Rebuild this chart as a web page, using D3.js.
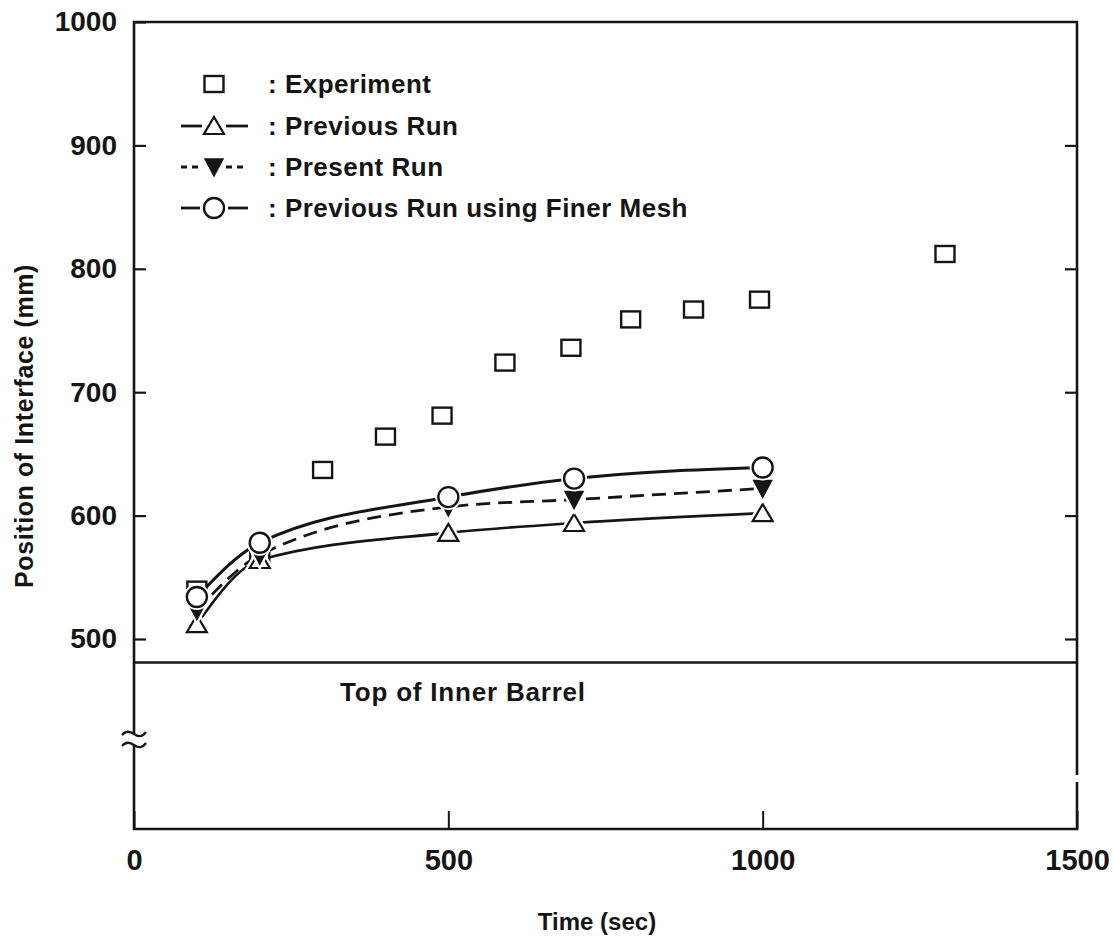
<!DOCTYPE html>
<html>
<head>
<meta charset="utf-8">
<script src="https://cdn.jsdelivr.net/npm/d3@7"></script>
<style>
  html, body { margin: 0; padding: 0; background: #fff; }
  svg text { font-family: "Liberation Sans", Arial, Helvetica, sans-serif; font-weight: bold; fill: #151515; }
</style>
</head>
<body>
<svg id="chart" width="1113" height="941"></svg>
<script>
// Interface position vs. time
const expTime = [100, 200, 300, 400, 490, 590, 695, 790, 890, 995, 1290];
const expPos  = [540, 568, 637, 664, 681, 724, 736, 759, 767, 775, 812];

const runTime    = [100, 200, 500, 700, 1000];
const previousRun = [512, 564, 586, 594, 602];
const presentRun  = [523, 568, 607, 613, 622];
const finerMeshRun = [534, 578, 615, 630, 639];

const xTicks = [0, 500, 1000, 1500];
const yTicks = [500, 600, 700, 800, 900, 1000];
const innerBarrelTop = 481;

const legendLabels = [": Experiment", ": Previous Run", ": Present Run", ": Previous Run using Finer Mesh"];

const ink = "#151515";
const svg = d3.select("#chart");

const pLeft = 134, pRight = 1077, pTop = 22, pBottom = 829;
const x = d3.scaleLinear().domain([0, 1500]).range([pLeft, pRight]);
const y = d3.scaleLinear().domain([500, 1000]).range([639, pTop]);

// Frame (left axis broken for the scale discontinuity)
const frame = svg.append("g").attr("stroke", ink).attr("stroke-width", 2.6).attr("fill", "none");
const breakY1 = 734, breakY2 = 745;
frame.append("path").attr("d", `M${pLeft},${breakY1} V${pTop} H${pRight} V775`);
frame.append("path").attr("d", `M${pRight},782 V${pBottom} H${pLeft} V${breakY2}`);
// axis break marks
frame.append("path").attr("stroke-width", 2.2)
  .attr("d", `M${pLeft - 12},${breakY1 + 1} q5,-6 12,-1 t12,-2`);
frame.append("path").attr("stroke-width", 2.2)
  .attr("d", `M${pLeft - 12},${breakY2 + 1} q5,-6 12,-1 t12,-2`);

// Y axis (ticks point inward)
const yAxis = svg.append("g").attr("transform", `translate(${pLeft},0)`)
  .call(d3.axisLeft(y).tickValues(yTicks).tickSizeInner(-12).tickSizeOuter(0).tickPadding(17).tickFormat(d3.format("d")));
yAxis.select(".domain").remove();
yAxis.selectAll("line").attr("stroke", ink).attr("stroke-width", 2.2);
yAxis.selectAll("text").attr("font-size", 28).attr("fill", ink);

const yAxisR = svg.append("g").attr("transform", `translate(${pRight},0)`)
  .call(d3.axisRight(y).tickValues(yTicks.filter(d => d < 1000)).tickSizeInner(-12).tickSizeOuter(0).tickFormat(""));
yAxisR.select(".domain").remove();
yAxisR.selectAll("line").attr("stroke", ink).attr("stroke-width", 2.2);

// X axis
const xAxis = svg.append("g").attr("transform", `translate(0,${pBottom})`)
  .call(d3.axisBottom(x).tickValues(xTicks).tickSizeInner(-18).tickSizeOuter(0).tickPadding(20).tickFormat(d3.format("d")));
xAxis.select(".domain").remove();
xAxis.selectAll("line").attr("stroke", ink).attr("stroke-width", 2);
xAxis.selectAll("text").attr("font-size", 29).attr("fill", ink);

// Axis titles
svg.append("text").attr("x", 597).attr("y", 930).attr("text-anchor", "middle")
  .attr("font-size", 24).text("Time (sec)");
svg.append("text").attr("transform", "translate(33,426) rotate(-90)").attr("text-anchor", "middle")
  .attr("font-size", 25).attr("letter-spacing", 0.6).text("Position of Interface (mm)");

// Top of inner barrel
svg.append("line").attr("x1", pLeft).attr("x2", pRight)
  .attr("y1", y(innerBarrelTop)).attr("y2", y(innerBarrelTop))
  .attr("stroke", ink).attr("stroke-width", 2.4);
svg.append("text").attr("x", 340).attr("y", 701).attr("font-size", 26)
  .attr("letter-spacing", 0.8).text("Top of Inner Barrel");

// Curves
const curveGen = d3.line().x(d => x(d[0])).y(d => y(d[1])).curve(d3.curveMonotoneX);
const pairs = vals => runTime.map((t, i) => [t, vals[i]]);

const curves = svg.append("g").attr("fill", "none").attr("stroke", ink);
curves.append("path").attr("d", curveGen(pairs(previousRun))).attr("stroke-width", 2.6);
curves.append("path").attr("d", curveGen(pairs(presentRun))).attr("stroke-width", 2.8).attr("stroke-dasharray", "14,8");
curves.append("path").attr("d", curveGen(pairs(finerMeshRun))).attr("stroke-width", 3);

// Marker drawers
const sqW = 19, sqH = 16;
function square(g, cx, cy) {
  g.append("rect").attr("x", cx - sqW / 2).attr("y", cy - sqH / 2).attr("width", sqW).attr("height", sqH)
    .attr("fill", "#fff").attr("stroke", ink).attr("stroke-width", 2.4);
}
function triUp(g, cx, cy, halo) {
  const p = `M${cx},${cy - 9} L${cx + 10},${cy + 8} L${cx - 10},${cy + 8} Z`;
  if (halo) g.append("path").attr("d", p).attr("fill", "#fff").attr("stroke", "#fff").attr("stroke-width", 7);
  g.append("path").attr("d", p).attr("fill", "#fff").attr("stroke", ink).attr("stroke-width", 2.2);
}
function triDown(g, cx, cy, halo) {
  const p = `M${cx - 9},${cy - 8} L${cx + 9},${cy - 8} L${cx},${cy + 9} Z`;
  if (halo) g.append("path").attr("d", p).attr("fill", "#fff").attr("stroke", "#fff").attr("stroke-width", 6);
  g.append("path").attr("d", p).attr("fill", ink).attr("stroke", ink).attr("stroke-width", 1.5);
}
function circ(g, cx, cy, halo) {
  if (halo) g.append("circle").attr("cx", cx).attr("cy", cy).attr("r", 13).attr("fill", "#fff");
  g.append("circle").attr("cx", cx).attr("cy", cy).attr("r", 10)
    .attr("fill", "#fff").attr("stroke", ink).attr("stroke-width", 2.4);
}

const marks = svg.append("g");
expTime.forEach((t, i) => square(marks, x(t), y(expPos[i])));
runTime.forEach((t, i) => triUp(marks, x(t), y(previousRun[i]), true));
runTime.forEach((t, i) => triDown(marks, x(t), y(presentRun[i]), true));
runTime.forEach((t, i) => circ(marks, x(t), y(finerMeshRun[i]), true));

// Legend
const lg = svg.append("g");
const rowY = [84, 126, 167, 208];
const mx = 214, lx0 = 181, lx1 = 248;
square(lg, mx, rowY[0]);
lg.append("line").attr("x1", lx0).attr("x2", 202).attr("y1", rowY[1]).attr("y2", rowY[1]).attr("stroke", ink).attr("stroke-width", 2.8);
lg.append("line").attr("x1", 226).attr("x2", lx1).attr("y1", rowY[1]).attr("y2", rowY[1]).attr("stroke", ink).attr("stroke-width", 2.8);
triUp(lg, mx, rowY[1], false);
lg.append("line").attr("x1", lx0).attr("x2", 203).attr("y1", rowY[2]).attr("y2", rowY[2]).attr("stroke", ink).attr("stroke-width", 2.8).attr("stroke-dasharray", "6,5");
lg.append("line").attr("x1", 226).attr("x2", lx1).attr("y1", rowY[2]).attr("y2", rowY[2]).attr("stroke", ink).attr("stroke-width", 2.8).attr("stroke-dasharray", "6,5");
triDown(lg, mx, rowY[2], false);
lg.append("line").attr("x1", lx0).attr("x2", 200).attr("y1", rowY[3]).attr("y2", rowY[3]).attr("stroke", ink).attr("stroke-width", 2.8);
lg.append("line").attr("x1", 228).attr("x2", lx1).attr("y1", rowY[3]).attr("y2", rowY[3]).attr("stroke", ink).attr("stroke-width", 2.8);
circ(lg, mx, rowY[3], false);

legendLabels.forEach((s, i) => {
  lg.append("text").attr("x", 268).attr("y", rowY[i] + 9).attr("font-size", 26)
    .attr("letter-spacing", 0.5).text(s);
});
</script>
</body>
</html>
